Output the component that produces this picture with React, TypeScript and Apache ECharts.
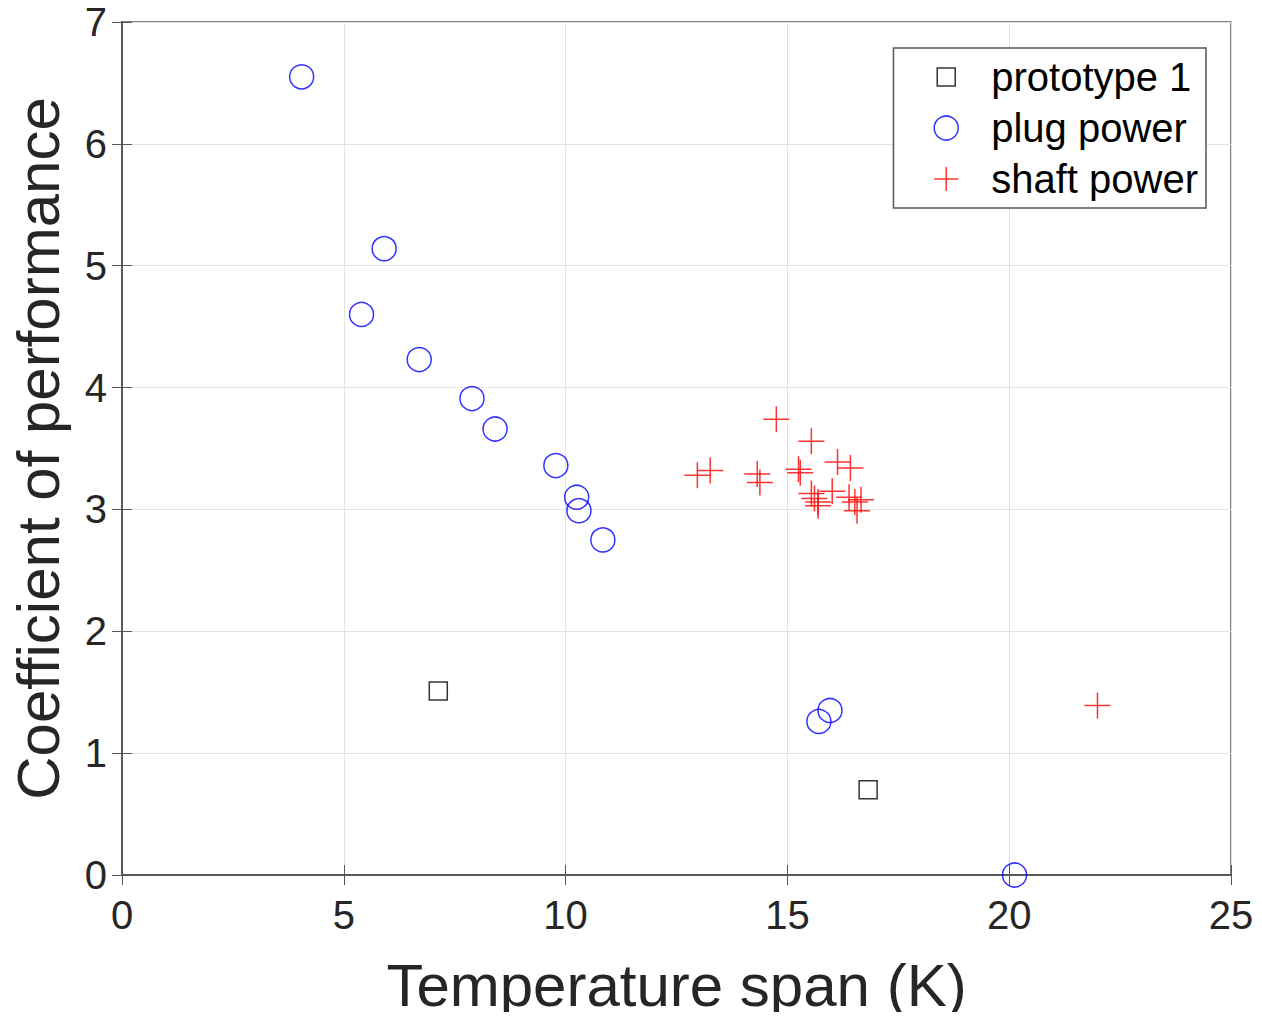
import React, { useEffect, useRef } from "react";
import * as echarts from "echarts";

const prototype1: [number, number][] = [
  [7.13, 1.51],
  [16.82, 0.7],
];

const plugPower: [number, number][] = [
  [4.05, 6.55],
  [5.91, 5.14],
  [5.4, 4.6],
  [6.7, 4.23],
  [7.89, 3.91],
  [8.41, 3.66],
  [9.78, 3.36],
  [10.25, 3.1],
  [10.3, 2.99],
  [10.84, 2.75],
  [15.71, 1.26],
  [15.96, 1.35],
  [20.12, 0.0],
];

const shaftPower: [number, number][] = [
  [14.75, 3.74],
  [15.54, 3.56],
  [12.97, 3.28],
  [13.26, 3.32],
  [14.32, 3.29],
  [14.38, 3.22],
  [15.29, 3.3],
  [15.25, 3.33],
  [16.13, 3.39],
  [16.42, 3.34],
  [15.54, 3.13],
  [15.61, 3.09],
  [15.69, 3.06],
  [15.69, 3.03],
  [16.01, 3.15],
  [16.39, 3.1],
  [16.52, 3.06],
  [16.57, 2.99],
  [16.66, 3.08],
  [21.99, 1.39],
];

const xTicks = { min: 0, max: 25, interval: 5 };
const yTicks = { min: 0, max: 7, interval: 1 };

const FONT = "'Liberation Sans', Arial, Helvetica, sans-serif";
const AX = "#262626";
const LINE = "#555555";
const PLUS = "path://M12,0 L12,24 M0,12 L24,12";
const SQUARE_ICON = "path://M0,0 M24,24 M3,3 L21,3 L21,21 L3,21 Z";
const CIRCLE_ICON = "circle";
const PLUS_ICON = "path://M0,0 M26,26 M13,0 L13,26 M0,13 L26,13";

export default function App() {
  const ref = useRef<HTMLDivElement>(null);
  useEffect(() => {
    if (!ref.current) return;
    const chart = echarts.init(ref.current, undefined, { renderer: "svg" });
    const axLabel = { color: AX, fontSize: 40, fontFamily: FONT };
    const tick = { show: true, inside: true, length: 10, lineStyle: { color: LINE, width: 1 } };
    const axisLine = { show: true, lineStyle: { color: LINE, width: 1.5 } };
    chart.setOption({
      animation: false,
      backgroundColor: "#ffffff",
      textStyle: { fontFamily: FONT },
      grid: {
        left: 118,
        right: 31,
        top: 22,
        bottom: 145,
        show: true,
        borderColor: LINE,
        borderWidth: 1.5,
        backgroundColor: "transparent",
      },
      legend: {
        orient: "vertical",
        right: 56,
        top: 48,
        itemWidth: 80,
        itemHeight: 24,
        itemGap: 11,
        padding: [9, 8, 9, 40],
        backgroundColor: "#ffffff",
        borderColor: LINE,
        borderWidth: 1.5,
        borderRadius: 0,
        textStyle: { fontSize: 40, lineHeight: 40, color: "#000000", fontFamily: FONT },
        data: [
          {
            name: "prototype 1",
            icon: SQUARE_ICON,
            itemStyle: { color: "transparent", borderColor: "#000000", borderWidth: 1.5 },
          },
          {
            name: "plug power",
            icon: CIRCLE_ICON,
            itemStyle: { color: "transparent", borderColor: "#0000ff", borderWidth: 1.5 },
          },
          {
            name: "shaft power",
            icon: PLUS_ICON,
            itemStyle: { color: "transparent", borderColor: "#ff0000", borderWidth: 1.5 },
          },
        ],
      },
      xAxis: [
        {
          type: "value",
          position: "bottom",
          ...xTicks,
          name: "Temperature span (K)",
          nameLocation: "middle",
          nameGap: 80,
          nameTextStyle: { fontSize: 60, color: AX, fontFamily: FONT },
          axisLine,
          axisTick: tick,
          axisLabel: { ...axLabel, margin: 20 },
          splitLine: { show: true, lineStyle: { color: "#e3e3e3", width: 1 } },
        },
        {
          type: "value",
          position: "top",
          ...xTicks,
          axisLine,
          axisTick: tick,
          axisLabel: { show: false },
          splitLine: { show: false },
        },
      ],
      yAxis: [
        {
          type: "value",
          position: "left",
          ...yTicks,
          name: "Coefficient of performance",
          nameLocation: "middle",
          nameGap: 54,
          nameTextStyle: { fontSize: 60, color: AX, fontFamily: FONT },
          axisLine,
          axisTick: tick,
          axisLabel: { ...axLabel, margin: 15 },
          splitLine: { show: true, lineStyle: { color: "#e3e3e3", width: 1 } },
        },
        {
          type: "value",
          position: "right",
          ...yTicks,
          axisLine,
          axisTick: tick,
          axisLabel: { show: false },
          splitLine: { show: false },
        },
      ],
      series: [
        {
          name: "prototype 1",
          type: "scatter",
          clip: false,
          symbol: "rect",
          symbolSize: 18,
          data: prototype1,
          itemStyle: { color: "transparent", borderColor: "#000000", borderWidth: 1.5 },
        },
        {
          name: "plug power",
          type: "scatter",
          clip: false,
          symbol: "circle",
          symbolSize: 24,
          data: plugPower,
          itemStyle: { color: "transparent", borderColor: "#0000ff", borderWidth: 1.5 },
        },
        {
          name: "shaft power",
          type: "scatter",
          clip: false,
          symbol: PLUS,
          symbolSize: 26,
          data: shaftPower,
          itemStyle: { color: "transparent", borderColor: "#ff0000", borderWidth: 1.5 },
        },
      ],
    });
    return () => chart.dispose();
  }, []);
  return <div ref={ref} style={{ width: 1262, height: 1020, margin: -8 }} />;
}
